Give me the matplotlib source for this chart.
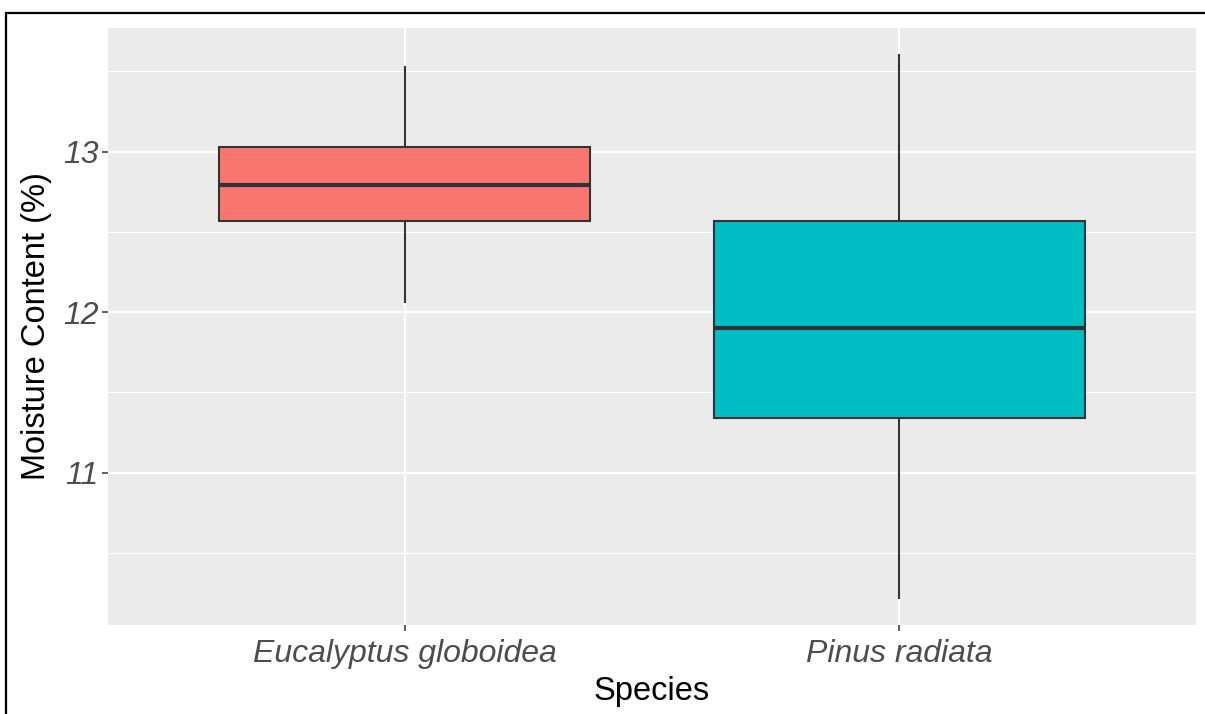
import matplotlib
matplotlib.use("Agg")
import matplotlib.pyplot as plt
from matplotlib.patches import Rectangle

# Summary statistics per species (moisture content, %)
species = ["Eucalyptus globoidea", "Pinus radiata"]
whisker_low = [12.06, 10.22]
q1 = [12.57, 11.34]
median = [12.79, 11.90]
q3 = [13.03, 12.57]
whisker_high = [13.53, 13.60]
fill_colors = ["#F8766D", "#00BFC4"]

plt.rcParams["font.family"] = ["Liberation Sans", "DejaVu Sans"]

fig = plt.figure(figsize=(12.05, 7.14), dpi=100)
ax = fig.add_axes([108 / 1205, 1 - 625 / 714, 1088 / 1205, 597 / 714])
ax.set_facecolor("#EBEBEB")

stats = []
for i, name in enumerate(species):
    stats.append({
        "label": name,
        "whislo": whisker_low[i],
        "q1": q1[i],
        "med": median[i],
        "q3": q3[i],
        "whishi": whisker_high[i],
        "fliers": [],
    })

positions = list(range(1, len(species) + 1))
bp = ax.bxp(stats, positions=positions, widths=0.75, patch_artist=True,
            showcaps=False, showfliers=False,
            boxprops=dict(edgecolor="#333333", linewidth=1.5),
            whiskerprops=dict(color="#333333", linewidth=1.5),
            medianprops=dict(color="#333333", linewidth=3.0, solid_capstyle="butt"))
for patch, c in zip(bp["boxes"], fill_colors):
    patch.set_facecolor(c)
    patch.set_zorder(3)
for w in bp["whiskers"]:
    w.set_zorder(2)
for m in bp["medians"]:
    m.set_zorder(4)

ax.set_xlim(0.4, 2.6)
ax.set_ylim(10.05, 13.77)
ax.set_yticks([11, 12, 13])
ax.set_yticks([10.5, 11.5, 12.5, 13.5], minor=True)
ax.set_xticks(positions)
ax.set_xticklabels(species)

ax.grid(True, which="major", color="white", linewidth=1.6)
ax.grid(True, which="minor", axis="y", color="white", linewidth=0.8)
ax.set_axisbelow(True)
for s in ax.spines.values():
    s.set_visible(False)

ax.tick_params(axis="both", which="major", length=4, width=1.1, color="#333333",
               labelsize=23, labelcolor="#4D4D4D", pad=3)
ax.tick_params(axis="x", which="major", pad=6)
ax.tick_params(axis="both", which="minor", length=0)
for lbl in ax.get_xticklabels() + ax.get_yticklabels():
    lbl.set_fontstyle("italic")

ax.set_xlabel("Species", fontsize=23.5, color="black", labelpad=5)
ax.set_ylabel("Moisture Content (%)", fontsize=23.5, color="black", labelpad=8)

# frame around the figure
fig.patches.append(Rectangle((6 / 1205, -0.05), 1.2, 1 - 13 / 714 + 0.05,
                             transform=fig.transFigure, fill=False,
                             edgecolor="black", linewidth=1.6, clip_on=False))

fig.savefig("out.png", dpi=100)
